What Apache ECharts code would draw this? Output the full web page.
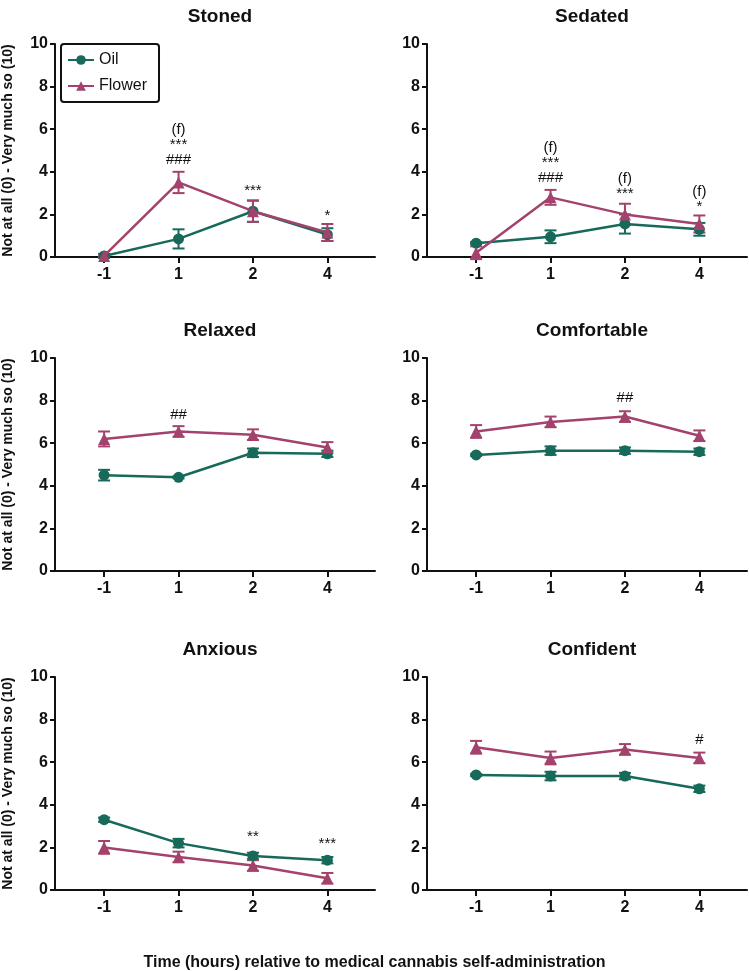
<!DOCTYPE html>
<html>
<head>
<meta charset="utf-8">
<script src="https://cdn.jsdelivr.net/npm/echarts@6/dist/echarts.min.js"></script>
<style>html,body{margin:0;padding:0;background:#fff}#main{width:749px;height:971px}</style>
</head>
<body>
<div id="main"></div>
<script>
var times = ['-1', '1', '2', '4'];
var panelTitles = ['Stoned', 'Sedated', 'Relaxed', 'Comfortable', 'Anxious', 'Confident'];
var oilMean = [
	[0.05, 0.85, 2.15, 1.05],
	[0.65, 0.95, 1.55, 1.3],
	[4.5, 4.4, 5.55, 5.5],
	[5.45, 5.65, 5.65, 5.6],
	[3.3, 2.2, 1.6, 1.4],
	[5.4, 5.35, 5.35, 4.75]
];
var oilErr = [
	[0.1, 0.45, 0.5, 0.3],
	[0.05, 0.3, 0.45, 0.3],
	[0.25, 0.05, 0.2, 0.15],
	[0.05, 0.2, 0.15, 0.15],
	[0.1, 0.2, 0.15, 0.15],
	[0.05, 0.2, 0.15, 0.15]
];
var flowerMean = [
	[0.05, 3.5, 2.15, 1.15],
	[0.2, 2.8, 2.0, 1.55],
	[6.2, 6.55, 6.4, 5.8],
	[6.55, 7.0, 7.25, 6.35],
	[2.0, 1.55, 1.15, 0.55],
	[6.7, 6.2, 6.6, 6.2]
];
var flowerErr = [
	[0.05, 0.5, 0.5, 0.4],
	[0.3, 0.35, 0.5, 0.4],
	[0.35, 0.25, 0.25, 0.25],
	[0.3, 0.25, 0.25, 0.25],
	[0.3, 0.25, 0.25, 0.25],
	[0.3, 0.3, 0.25, 0.25]
];
// [panel, time index, bottom of text in data units, text]
var notes = [
	[0, 1, 4.2, '(f)\n***\n###'],
	[0, 2, 2.75, '***'],
	[0, 3, 1.6, '*'],
	[1, 1, 3.35, '(f)\n***\n###'],
	[1, 2, 2.6, '(f)\n***'],
	[1, 3, 2.0, '(f)\n*'],
	[2, 1, 7.0, '##'],
	[3, 2, 7.8, '##'],
	[4, 2, 2.15, '**'],
	[4, 3, 1.8, '***'],
	[5, 3, 6.7, '#']
];

var OIL = '#17695a', FLOWER = '#a3426c';
var FONT = '"Liberation Sans Narrow", "Liberation Sans", Arial, sans-serif';
var lefts = [55, 427], tops = [44, 358, 677], W = 320, H = 213;

var chart = echarts.init(document.getElementById('main'));
var grid = [], xAxis = [], yAxis = [], title = [], series = [];

function errBar(color) {
	return function (params, api) {
		var x = api.value(0), y = api.value(1), e = api.value(2);
		var lo = api.coord([x, y - e]), hi = api.coord([x, y + e]);
		var st = {stroke: color, lineWidth: 2};
		return {type: 'group', children: [
			{type: 'line', shape: {x1: lo[0], y1: lo[1], x2: hi[0], y2: hi[1]}, style: st},
			{type: 'line', shape: {x1: lo[0] - 6, y1: lo[1], x2: lo[0] + 6, y2: lo[1]}, style: st},
			{type: 'line', shape: {x1: hi[0] - 6, y1: hi[1], x2: hi[0] + 6, y2: hi[1]}, style: st}
		]};
	};
}

function noteRender(nd) {
	return function (params, api) {
		var pt = api.coord([api.value(0), api.value(1)]);
		return {type: 'text', x: pt[0], y: pt[1], style: {text: nd[params.dataIndex][2],
			align: 'center', verticalAlign: 'bottom', fontFamily: FONT, fontSize: 15, lineHeight: 15, fill: '#111'}};
	};
}

for (var p = 0; p < 6; p++) {
	var col = p % 2, row = Math.floor(p / 2);
	grid.push({left: lefts[col], top: tops[row], width: W, height: H});
	title.push({text: panelTitles[p], left: lefts[col] + W / 2, top: tops[row] - 42, textAlign: 'center',
		textStyle: {fontFamily: FONT, fontSize: 19, fontWeight: 'bold', color: '#111'}});
	xAxis.push({type: 'value', gridIndex: p, min: -0.66, max: 3.64,
		axisLine: {onZero: false, lineStyle: {color: '#111', width: 2}},
		axisTick: {customValues: [0, 1, 2, 3], length: 6, lineStyle: {width: 2, color: '#111'}},
		axisLabel: {customValues: [0, 1, 2, 3], formatter: function (v) { return times[Math.round(v)]; },
			fontFamily: FONT, fontSize: 16, fontWeight: 'bold', color: '#111', margin: 10},
		splitLine: {show: false}});
	yAxis.push({type: 'value', gridIndex: p, min: 0, max: 10, interval: 2,
		name: col === 0 ? 'Not at all (0) - Very much so (10)' : '', nameLocation: 'middle', nameGap: 40,
		nameTextStyle: {fontFamily: '"Liberation Sans", Arial, sans-serif', fontSize: 14, fontWeight: 'bold', color: '#111'},
		axisLine: {show: true, onZero: false, lineStyle: {color: '#111', width: 2}},
		axisTick: {show: true, length: 5, lineStyle: {width: 2, color: '#111'}},
		axisLabel: {fontFamily: FONT, fontSize: 16, fontWeight: 'bold', color: '#111', margin: 7},
		splitLine: {show: false}});

	var oilData = [], flData = [], oilE = [], flE = [];
	for (var i = 0; i < 4; i++) {
		oilData.push([i, oilMean[p][i]]);
		flData.push([i, flowerMean[p][i]]);
		oilE.push([i, oilMean[p][i], oilErr[p][i]]);
		flE.push([i, flowerMean[p][i], flowerErr[p][i]]);
	}
	series.push({type: 'custom', xAxisIndex: p, yAxisIndex: p, renderItem: errBar(OIL), data: oilE, silent: true, z: 2});
	series.push({type: 'custom', xAxisIndex: p, yAxisIndex: p, renderItem: errBar(FLOWER), data: flE, silent: true, z: 2});
	series.push({name: 'Oil', type: 'line', xAxisIndex: p, yAxisIndex: p, data: oilData, symbol: 'circle', symbolSize: 11,
		itemStyle: {color: OIL}, lineStyle: {color: OIL, width: 2.5}, z: 3});
	series.push({name: 'Flower', type: 'line', xAxisIndex: p, yAxisIndex: p, data: flData, symbol: 'triangle', symbolSize: 12,
		itemStyle: {color: FLOWER}, lineStyle: {color: FLOWER, width: 2.5}, z: 4});

	var nd = notes.filter(function (n) { return n[0] === p; }).map(function (n) { return [n[1], n[2], n[3]]; });
	series.push({type: 'custom', xAxisIndex: p, yAxisIndex: p, silent: true, z: 5,
		data: nd.map(function (n) { return [n[0], n[1]]; }), renderItem: noteRender(nd)});
}

chart.setOption({
	animation: false,
	title: title.concat([{text: 'Time (hours) relative to medical cannabis self-administration', left: 'center', top: 950,
		textStyle: {fontFamily: FONT, fontSize: 16, fontWeight: 'bold', color: '#111'}}]),
	legend: {data: ['Oil', 'Flower'], orient: 'vertical', left: 61, top: 44, itemGap: 10, itemWidth: 26, itemHeight: 12,
		borderColor: '#111', borderWidth: 2, borderRadius: 3, padding: [8, 12, 8, 6],
		textStyle: {fontFamily: FONT, fontSize: 16, color: '#111'}},
	grid: grid, xAxis: xAxis, yAxis: yAxis, series: series
});
</script>
</body>
</html>
